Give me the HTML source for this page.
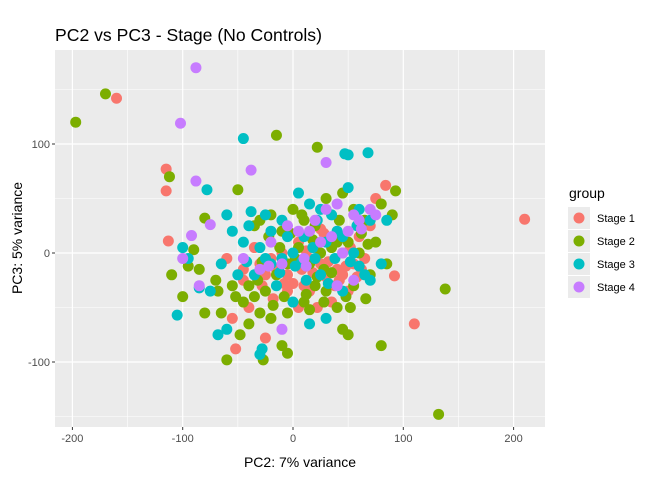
<!DOCTYPE html>
<html><head><meta charset="utf-8"><style>
body{margin:0;background:#fff;font-family:"Liberation Sans",sans-serif}
</style></head><body>
<svg id="chart" width="652" height="495" xmlns="http://www.w3.org/2000/svg" font-family="Liberation Sans, sans-serif">
<text x="55" y="41" font-size="17.6" fill="#000">PC2 vs PC3 - Stage (No Controls)</text>
<rect x="55" y="50" width="490" height="377" fill="#ebebeb"/>
<g id="grid"></g>
<g id="pts"></g>
<g id="axes"></g>
<text x="300" y="467" font-size="14" text-anchor="middle">PC2: 7% variance</text>
<text transform="translate(22,238) rotate(-90)" font-size="14" text-anchor="middle">PC3: 5% variance</text>
<g id="legend">
<text x="569" y="198" font-size="14">group</text>
</g>
</svg>
<script>
const xTicks=[-200,-100,0,100,200];
const yTicks=[-100,0,100];
const groups=["Stage 1","Stage 2","Stage 3","Stage 4"];
const colors=["#F8766D","#7CAE00","#00BFC4","#C77CFF"];
const stage1=[[-160,142],[-115,77],[-115,57],[-113,11],[210,31],[110,-65],[92,-21],[84,62],[-52,-88],[-55,-60],[-40,-50],[-25,-78],[-45,-25],[-30,-10],[-20,-5],[-5,-20],[5,10],[10,-30],[20,5],[25,-10],[30,-22],[40,-15],[45,0],[55,-10],[60,15],[70,25],[-15,-15],[0,-28],[15,-35],[35,-45],[50,-35],[-35,5],[-10,0],[65,-5],[75,50],[-60,-5],[22,-50],[8,-15],[-25,-20],[45,-20],[38,-30],[-5,-35],[12,2],[28,18],[52,5],[-45,-15],[32,-8],[18,-18],[-8,-28],[48,-12],[62,-15],[-18,-42],[5,-50],[25,22],[42,-25],[-28,-30],[58,-22],[15,-5]];
const stage2=[[-197,120],[-170,146],[-15,108],[22,97],[93,57],[80,-85],[138,-33],[132,-148],[-60,-98],[-27,-98],[-10,-85],[-100,-40],[-110,-20],[-85,-15],[45,-70],[50,-75],[-112,70],[-80,32],[-50,58],[-30,30],[-20,35],[-10,20],[0,40],[10,30],[20,25],[30,50],[45,55],[55,40],[65,30],[80,45],[90,35],[75,10],[60,0],[40,10],[25,0],[15,-10],[5,5],[-5,-10],[-15,-20],[-25,-35],[-35,-40],[-45,-45],[-55,-30],[-70,-25],[-80,-55],[-65,-55],[-40,-65],[-20,-60],[-5,-55],[10,-45],[20,-30],[30,-35],[40,-50],[55,-30],[70,-20],[85,-10],[-95,-12],[-90,3],[-5,-92],[35,-18],[18,12],[-12,5],[2,-5],[-32,-25],[48,-40],[62,18],[-68,-35],[-22,15],[28,-45],[-48,-75],[-30,-55],[52,-50],[66,-42],[8,35],[-2,18],[22,-22],[35,5],[-28,-8],[-40,-30],[12,-38],[-18,-48],[50,10],[68,8],[-8,-40],[28,-15],[-52,-40],[42,30],[-35,25],[15,-52]];
const stage3=[[-45,105],[68,92],[50,90],[47,91],[-105,-57],[-68,-75],[-28,-88],[-85,-32],[-30,-93],[-78,58],[-60,35],[-40,25],[-25,35],[-10,30],[5,55],[15,45],[25,40],[35,35],[50,60],[60,40],[70,30],[85,30],[80,-10],[65,-20],[55,0],[40,20],[30,10],[20,-5],[10,15],[0,0],[-10,-5],[-20,-10],[-30,5],[-45,10],[-55,20],[-65,-10],[-75,-35],[-60,-70],[-15,-30],[0,-45],[15,-65],[30,-60],[45,-35],[-100,5],[-95,-5],[-50,-20],[12,-25],[38,-5],[-35,-20],[-38,38],[-20,20],[8,-8],[25,-20],[58,25],[70,-25],[-5,15],[18,5],[32,-28],[45,15],[-12,-18],[2,-12],[52,-8],[-25,-5],[22,30],[60,-12],[-42,-8]];
const stage4=[[-88,170],[-102,119],[-88,66],[-38,76],[30,83],[-92,16],[-100,-5],[-85,-30],[-75,26],[-10,-70],[-20,10],[-5,25],[5,20],[15,20],[30,40],[40,45],[55,35],[60,30],[70,40],[75,35],[50,20],[25,10],[10,-5],[-10,-10],[-30,-15],[40,-30],[55,-25],[-45,-5],[20,30],[45,0],[35,15],[-22,-12],[12,-12],[62,22]];
const series=[stage1,stage2,stage3,stage4];
const X0=55,X1=545,Y0=50,Y1=427;
const xs=v=>293+v*1.103, ys=v=>253-v*1.09;
const NS="http://www.w3.org/2000/svg";
function mk(t,a,p){const e=document.createElementNS(NS,t);for(const k in a)e.setAttribute(k,a[k]);p.appendChild(e);return e;}
const grid=document.getElementById('grid');
[-250,-150,-50,50,150].forEach(v=>{if(xs(v)>X0){const l=mk('line',{x1:xs(v),x2:xs(v),y1:Y0,y2:Y1,stroke:'#fff','stroke-width':0.6},grid);}});
[-150,-50,50,150].forEach(v=>{const l=mk('line',{x1:X0,x2:X1,y1:ys(v),y2:ys(v),stroke:'#fff','stroke-width':0.6},grid);});
const axes=document.getElementById('axes');
xTicks.forEach(v=>{const l=mk('line',{x1:xs(v),x2:xs(v),y1:Y0,y2:Y1,stroke:'#fff','stroke-width':1.2},grid);
const t=mk('line',{x1:xs(v),x2:xs(v),y1:Y1,y2:Y1+3,stroke:'#333'},axes);
const tx=mk('text',{x:xs(v),y:Y1+15,'font-size':11,fill:'#4d4d4d','text-anchor':'middle'},axes);tx.textContent=v;});
yTicks.forEach(v=>{const l=mk('line',{x1:X0,x2:X1,y1:ys(v),y2:ys(v),stroke:'#fff','stroke-width':1.2},grid);
const t=mk('line',{x1:X0-3,x2:X0,y1:ys(v),y2:ys(v),stroke:'#333'},axes);
const tx=mk('text',{x:X0-5,y:ys(v)+4,'font-size':11,fill:'#4d4d4d','text-anchor':'end'},axes);tx.textContent=v;});
const pts=document.getElementById('pts');
series.forEach((s,i)=>s.forEach(p=>{const c=mk('circle',{cx:xs(p[0]),cy:ys(p[1]),r:5.5,fill:colors[i]},pts);}));
const lg=document.getElementById('legend');
groups.forEach((g,i)=>{const y=218+i*23;
const r=mk('rect',{x:568,y:y-11,width:22,height:22,fill:'#ebebeb'},lg);
const c=mk('circle',{cx:579,cy:y,r:5.5,fill:colors[i]},lg);
const t=mk('text',{x:597,y:y+4,'font-size':11},lg);t.textContent=g;});
</script>
</body></html>
